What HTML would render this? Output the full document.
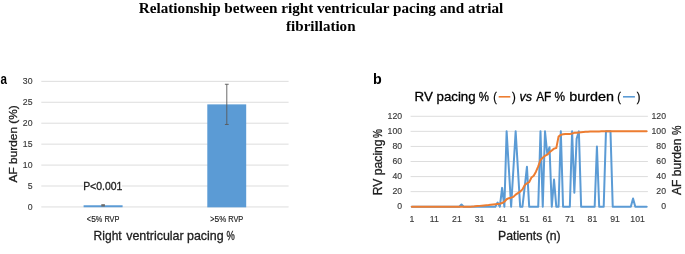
<!DOCTYPE html>
<html><head><meta charset="utf-8"><title>Relationship between right ventricular pacing and atrial fibrillation</title>
<style>
html,body{margin:0;padding:0;background:#fff;}
body{width:685px;height:254px;overflow:hidden;font-family:"Liberation Sans", sans-serif;}
svg{display:block;will-change:transform;}
</style></head>
<body>
<svg width="685" height="254" viewBox="0 0 685 254">
<rect width="685" height="254" fill="#fff"/>
<text x="138.84" y="12.9" font-family='"Liberation Serif", serif' font-size="14" font-weight="bold" fill="#000" textLength="364.52" lengthAdjust="spacingAndGlyphs">Relationship between right ventricular pacing and atrial</text>
<text x="286.09" y="30.6" font-family='"Liberation Serif", serif' font-size="14" font-weight="bold" fill="#000" textLength="69.44" lengthAdjust="spacingAndGlyphs">fibrillation</text>
<text x="0.56" y="84.0" font-family='"Liberation Sans", sans-serif' font-size="14" font-weight="bold" fill="#000" textLength="6.47" lengthAdjust="spacingAndGlyphs">a</text>
<line x1="41.3" y1="206.94" x2="288.6" y2="206.94" stroke="#D9D9D9" stroke-width="0.9"/>
<text x="32.5" y="209.94" font-family='"Liberation Sans", sans-serif' font-size="8.7" text-anchor="end" fill="#3a3a3a" stroke="#3a3a3a" stroke-width="0.15">0</text>
<line x1="41.3" y1="186.01" x2="288.6" y2="186.01" stroke="#D9D9D9" stroke-width="0.9"/>
<text x="32.5" y="189.01" font-family='"Liberation Sans", sans-serif' font-size="8.7" text-anchor="end" fill="#3a3a3a" stroke="#3a3a3a" stroke-width="0.15">5</text>
<line x1="41.3" y1="165.08" x2="288.6" y2="165.08" stroke="#D9D9D9" stroke-width="0.9"/>
<text x="32.5" y="168.08" font-family='"Liberation Sans", sans-serif' font-size="8.7" text-anchor="end" fill="#3a3a3a" stroke="#3a3a3a" stroke-width="0.15">10</text>
<line x1="41.3" y1="144.14" x2="288.6" y2="144.14" stroke="#D9D9D9" stroke-width="0.9"/>
<text x="32.5" y="147.14" font-family='"Liberation Sans", sans-serif' font-size="8.7" text-anchor="end" fill="#3a3a3a" stroke="#3a3a3a" stroke-width="0.15">15</text>
<line x1="41.3" y1="123.21" x2="288.6" y2="123.21" stroke="#D9D9D9" stroke-width="0.9"/>
<text x="32.5" y="126.21" font-family='"Liberation Sans", sans-serif' font-size="8.7" text-anchor="end" fill="#3a3a3a" stroke="#3a3a3a" stroke-width="0.15">20</text>
<line x1="41.3" y1="102.28" x2="288.6" y2="102.28" stroke="#D9D9D9" stroke-width="0.9"/>
<text x="32.5" y="105.28" font-family='"Liberation Sans", sans-serif' font-size="8.7" text-anchor="end" fill="#3a3a3a" stroke="#3a3a3a" stroke-width="0.15">25</text>
<line x1="41.3" y1="81.35" x2="288.6" y2="81.35" stroke="#D9D9D9" stroke-width="0.9"/>
<text x="32.5" y="84.35" font-family='"Liberation Sans", sans-serif' font-size="8.7" text-anchor="end" fill="#3a3a3a" stroke="#3a3a3a" stroke-width="0.15">30</text>
<rect x="83.6" y="205.27" width="39.0" height="1.97" fill="#5B9BD5"/>
<rect x="207.3" y="104.37" width="38.9" height="102.97" fill="#5B9BD5"/>
<line x1="226.8" y1="84.28" x2="226.8" y2="124.47" stroke="#595959" stroke-width="0.9"/>
<line x1="224.9" y1="84.28" x2="228.7" y2="84.28" stroke="#595959" stroke-width="0.9"/>
<line x1="224.9" y1="124.47" x2="228.7" y2="124.47" stroke="#595959" stroke-width="0.9"/>
<rect x="101.3" y="204.2" width="3.6" height="2.3" fill="#6a6a6a"/>
<text x="86.64" y="222.0" font-family='"Liberation Sans", sans-serif' font-size="8.4" font-weight="normal" fill="#202020" stroke="#202020" stroke-width="0.15" textLength="4.21" lengthAdjust="spacingAndGlyphs">&lt;</text>
<text x="91.16" y="222.0" font-family='"Liberation Sans", sans-serif' font-size="8.4" font-weight="normal" fill="#202020" stroke="#202020" stroke-width="0.15" textLength="4.69" lengthAdjust="spacingAndGlyphs">5</text>
<text x="95.64" y="222.0" font-family='"Liberation Sans", sans-serif' font-size="8.4" font-weight="normal" fill="#202020" stroke="#202020" stroke-width="0.15" textLength="6.52" lengthAdjust="spacingAndGlyphs">%</text>
<text x="104.4" y="222.0" font-family='"Liberation Sans", sans-serif' font-size="8.4" font-weight="normal" fill="#202020" stroke="#202020" stroke-width="0.15" textLength="15.09" lengthAdjust="spacingAndGlyphs">RVP</text>
<text x="210.24" y="222.0" font-family='"Liberation Sans", sans-serif' font-size="8.4" font-weight="normal" fill="#202020" stroke="#202020" stroke-width="0.15" textLength="4.21" lengthAdjust="spacingAndGlyphs">&gt;</text>
<text x="214.46" y="222.0" font-family='"Liberation Sans", sans-serif' font-size="8.4" font-weight="normal" fill="#202020" stroke="#202020" stroke-width="0.15" textLength="4.69" lengthAdjust="spacingAndGlyphs">5</text>
<text x="219.22" y="222.0" font-family='"Liberation Sans", sans-serif' font-size="8.4" font-weight="normal" fill="#202020" stroke="#202020" stroke-width="0.15" textLength="7.07" lengthAdjust="spacingAndGlyphs">%</text>
<text x="228.2" y="222.0" font-family='"Liberation Sans", sans-serif' font-size="8.4" font-weight="normal" fill="#202020" stroke="#202020" stroke-width="0.15" textLength="15.09" lengthAdjust="spacingAndGlyphs">RVP</text>
<rect x="83.4" y="181.0" width="38.5" height="10" fill="#fff"/>
<text x="83.14" y="189.6" font-family='"Liberation Sans", sans-serif' font-size="10.9" font-weight="normal" fill="#202020" stroke="#202020" stroke-width="0.3" textLength="39.27" lengthAdjust="spacingAndGlyphs">P&lt;0.001</text>
<text x="93.61" y="239.9" font-family='"Liberation Sans", sans-serif' font-size="13.0" font-weight="normal" fill="#202020" stroke="#202020" stroke-width="0.3" textLength="28.07" lengthAdjust="spacingAndGlyphs">Right</text>
<text x="126.16" y="239.9" font-family='"Liberation Sans", sans-serif' font-size="13.0" font-weight="normal" fill="#202020" stroke="#202020" stroke-width="0.3" textLength="57.55" lengthAdjust="spacingAndGlyphs">ventricular</text>
<text x="187.0" y="239.9" font-family='"Liberation Sans", sans-serif' font-size="13.0" font-weight="normal" fill="#202020" stroke="#202020" stroke-width="0.3" textLength="36.71" lengthAdjust="spacingAndGlyphs">pacing</text>
<text x="226.57" y="239.9" font-family='"Liberation Sans", sans-serif' font-size="13.0" font-weight="normal" fill="#202020" stroke="#202020" stroke-width="0.3" textLength="8.26" lengthAdjust="spacingAndGlyphs">%</text>
<text transform="translate(17.3,0) rotate(-90)" x="-182.42" y="0" font-family='"Liberation Sans", sans-serif' font-size="11.8" font-weight="normal" fill="#202020" stroke="#202020" stroke-width="0.3" textLength="77.16" lengthAdjust="spacingAndGlyphs">AF burden (%)</text>
<text x="372.96" y="84.1" font-family='"Liberation Sans", sans-serif' font-size="14.0" font-weight="bold" fill="#000" textLength="8.73" lengthAdjust="spacingAndGlyphs">b</text>
<line x1="410.6" y1="206.70" x2="647.9" y2="206.70" stroke="#D9D9D9" stroke-width="0.9"/>
<text x="402.1" y="209.40" font-family='"Liberation Sans", sans-serif' font-size="8.7" text-anchor="end" fill="#3a3a3a" stroke="#3a3a3a" stroke-width="0.15">0</text>
<text x="666.0" y="209.40" font-family='"Liberation Sans", sans-serif' font-size="8.7" text-anchor="end" fill="#3a3a3a" stroke="#3a3a3a" stroke-width="0.15">0</text>
<line x1="410.6" y1="191.63" x2="647.9" y2="191.63" stroke="#D9D9D9" stroke-width="0.9"/>
<text x="402.1" y="194.33" font-family='"Liberation Sans", sans-serif' font-size="8.7" text-anchor="end" fill="#3a3a3a" stroke="#3a3a3a" stroke-width="0.15">20</text>
<text x="666.0" y="194.33" font-family='"Liberation Sans", sans-serif' font-size="8.7" text-anchor="end" fill="#3a3a3a" stroke="#3a3a3a" stroke-width="0.15">20</text>
<line x1="410.6" y1="176.57" x2="647.9" y2="176.57" stroke="#D9D9D9" stroke-width="0.9"/>
<text x="402.1" y="179.27" font-family='"Liberation Sans", sans-serif' font-size="8.7" text-anchor="end" fill="#3a3a3a" stroke="#3a3a3a" stroke-width="0.15">40</text>
<text x="666.0" y="179.27" font-family='"Liberation Sans", sans-serif' font-size="8.7" text-anchor="end" fill="#3a3a3a" stroke="#3a3a3a" stroke-width="0.15">40</text>
<line x1="410.6" y1="161.50" x2="647.9" y2="161.50" stroke="#D9D9D9" stroke-width="0.9"/>
<text x="402.1" y="164.20" font-family='"Liberation Sans", sans-serif' font-size="8.7" text-anchor="end" fill="#3a3a3a" stroke="#3a3a3a" stroke-width="0.15">60</text>
<text x="666.0" y="164.20" font-family='"Liberation Sans", sans-serif' font-size="8.7" text-anchor="end" fill="#3a3a3a" stroke="#3a3a3a" stroke-width="0.15">60</text>
<line x1="410.6" y1="146.43" x2="647.9" y2="146.43" stroke="#D9D9D9" stroke-width="0.9"/>
<text x="402.1" y="149.13" font-family='"Liberation Sans", sans-serif' font-size="8.7" text-anchor="end" fill="#3a3a3a" stroke="#3a3a3a" stroke-width="0.15">80</text>
<text x="666.0" y="149.13" font-family='"Liberation Sans", sans-serif' font-size="8.7" text-anchor="end" fill="#3a3a3a" stroke="#3a3a3a" stroke-width="0.15">80</text>
<line x1="410.6" y1="131.37" x2="647.9" y2="131.37" stroke="#D9D9D9" stroke-width="0.9"/>
<text x="402.1" y="134.07" font-family='"Liberation Sans", sans-serif' font-size="8.7" text-anchor="end" fill="#3a3a3a" stroke="#3a3a3a" stroke-width="0.15">100</text>
<text x="666.0" y="134.07" font-family='"Liberation Sans", sans-serif' font-size="8.7" text-anchor="end" fill="#3a3a3a" stroke="#3a3a3a" stroke-width="0.15">100</text>
<line x1="410.6" y1="116.30" x2="647.9" y2="116.30" stroke="#D9D9D9" stroke-width="0.9"/>
<text x="402.1" y="119.00" font-family='"Liberation Sans", sans-serif' font-size="8.7" text-anchor="end" fill="#3a3a3a" stroke="#3a3a3a" stroke-width="0.15">120</text>
<text x="666.0" y="119.00" font-family='"Liberation Sans", sans-serif' font-size="8.7" text-anchor="end" fill="#3a3a3a" stroke="#3a3a3a" stroke-width="0.15">120</text>
<text x="411.80" y="222.1" font-family='"Liberation Sans", sans-serif' font-size="8.7" text-anchor="middle" fill="#3a3a3a" stroke="#3a3a3a" stroke-width="0.15">1</text>
<text x="434.38" y="222.1" font-family='"Liberation Sans", sans-serif' font-size="8.7" text-anchor="middle" fill="#3a3a3a" stroke="#3a3a3a" stroke-width="0.15">11</text>
<text x="456.95" y="222.1" font-family='"Liberation Sans", sans-serif' font-size="8.7" text-anchor="middle" fill="#3a3a3a" stroke="#3a3a3a" stroke-width="0.15">21</text>
<text x="479.53" y="222.1" font-family='"Liberation Sans", sans-serif' font-size="8.7" text-anchor="middle" fill="#3a3a3a" stroke="#3a3a3a" stroke-width="0.15">31</text>
<text x="502.11" y="222.1" font-family='"Liberation Sans", sans-serif' font-size="8.7" text-anchor="middle" fill="#3a3a3a" stroke="#3a3a3a" stroke-width="0.15">41</text>
<text x="524.68" y="222.1" font-family='"Liberation Sans", sans-serif' font-size="8.7" text-anchor="middle" fill="#3a3a3a" stroke="#3a3a3a" stroke-width="0.15">51</text>
<text x="547.26" y="222.1" font-family='"Liberation Sans", sans-serif' font-size="8.7" text-anchor="middle" fill="#3a3a3a" stroke="#3a3a3a" stroke-width="0.15">61</text>
<text x="569.84" y="222.1" font-family='"Liberation Sans", sans-serif' font-size="8.7" text-anchor="middle" fill="#3a3a3a" stroke="#3a3a3a" stroke-width="0.15">71</text>
<text x="592.42" y="222.1" font-family='"Liberation Sans", sans-serif' font-size="8.7" text-anchor="middle" fill="#3a3a3a" stroke="#3a3a3a" stroke-width="0.15">81</text>
<text x="614.99" y="222.1" font-family='"Liberation Sans", sans-serif' font-size="8.7" text-anchor="middle" fill="#3a3a3a" stroke="#3a3a3a" stroke-width="0.15">91</text>
<text x="637.57" y="222.1" font-family='"Liberation Sans", sans-serif' font-size="8.7" text-anchor="middle" fill="#3a3a3a" stroke="#3a3a3a" stroke-width="0.15">101</text>
<polyline points="411.80,206.70 414.06,206.70 416.32,206.70 418.57,206.70 420.83,206.70 423.09,206.70 425.35,206.70 427.60,206.70 429.86,206.70 432.12,206.70 434.38,206.70 436.63,206.70 438.89,206.70 441.15,206.70 443.41,206.70 445.67,206.70 447.92,206.70 450.18,206.70 452.44,206.70 454.70,206.70 456.95,206.70 459.21,206.70 461.47,204.44 463.73,206.70 465.98,206.70 468.24,206.70 470.50,206.70 472.76,206.70 475.02,206.70 477.27,206.70 479.53,206.70 481.79,206.70 484.05,206.70 486.30,206.70 488.56,206.70 490.82,206.70 493.08,206.70 495.33,206.70 497.59,202.56 499.85,206.70 502.11,187.87 504.37,206.70 506.62,131.37 508.88,169.03 511.14,206.70 513.40,169.03 515.65,131.37 517.91,169.03 520.17,206.70 522.43,206.70 524.68,187.11 526.94,166.77 529.20,206.70 531.46,206.70 533.72,206.70 535.97,206.70 538.23,206.70 540.49,131.37 542.75,206.70 545.00,131.37 547.26,153.97 549.52,147.19 551.78,206.70 554.03,179.58 556.29,206.70 558.55,206.70 560.81,131.37 563.07,206.70 565.32,206.70 567.58,206.70 569.84,206.70 572.10,131.37 574.35,192.76 576.61,138.90 578.87,131.37 581.13,206.70 583.38,206.70 585.64,206.70 587.90,206.70 590.16,206.70 592.42,206.70 594.67,206.70 596.93,146.43 599.19,206.70 601.45,206.70 603.70,206.70 605.96,131.37 608.22,131.37 610.48,131.37 612.73,206.70 614.99,206.70 617.25,206.70 619.51,206.70 621.77,206.70 624.02,206.70 626.28,206.70 628.54,206.70 630.80,206.70 633.05,198.41 635.31,206.70 637.57,206.70 639.83,206.70 642.08,206.70 644.34,206.70 646.60,206.70" fill="none" stroke="#5B9BD5" stroke-width="2" stroke-linejoin="round" stroke-linecap="round"/>
<polyline points="411.80,206.70 414.06,206.70 416.32,206.70 418.57,206.70 420.83,206.70 423.09,206.70 425.35,206.70 427.60,206.70 429.86,206.70 432.12,206.70 434.38,206.70 436.63,206.70 438.89,206.70 441.15,206.70 443.41,206.70 445.67,206.70 447.92,206.70 450.18,206.70 452.44,206.70 454.70,206.70 456.95,206.70 459.21,206.70 461.47,206.70 463.73,206.70 465.98,206.70 468.24,206.70 470.50,206.70 472.76,206.62 475.02,206.36 477.27,206.10 479.53,205.87 481.79,205.65 484.05,205.44 486.30,205.24 488.56,205.04 490.82,204.77 493.08,204.49 495.33,204.21 497.59,203.95 499.85,203.69 502.11,203.08 504.37,201.73 506.62,199.24 508.88,198.19 511.14,197.66 513.40,196.91 515.65,194.65 517.91,193.14 520.17,191.63 522.43,189.37 524.68,185.23 526.94,183.35 529.20,182.14 531.46,177.47 533.72,175.81 535.97,171.67 538.23,166.40 540.49,159.99 542.75,157.73 545.00,155.85 547.26,154.72 549.52,152.31 551.78,150.43 554.03,148.62 556.29,148.09 558.55,136.64 560.81,134.91 563.07,134.23 565.32,134.00 567.58,133.97 569.84,133.93 572.10,133.48 574.35,132.87 576.61,132.65 578.87,132.42 581.13,132.20 583.38,131.97 585.64,131.74 587.90,131.67 590.16,131.59 592.42,131.52 594.67,131.44 596.93,131.42 599.19,131.39 601.45,131.37 603.70,131.37 605.96,131.37 608.22,131.37 610.48,131.37 612.73,131.37 614.99,131.37 617.25,131.37 619.51,131.37 621.77,131.37 624.02,131.37 626.28,131.37 628.54,131.37 630.80,131.37 633.05,131.37 635.31,131.37 637.57,131.37 639.83,131.37 642.08,131.37 644.34,131.37 646.60,131.37" fill="none" stroke="#ED7D31" stroke-width="2" stroke-linejoin="round" stroke-linecap="round"/>
<text x="414.61" y="100.9" font-family='"Liberation Sans", sans-serif' font-size="12.9" font-weight="normal" fill="#000" stroke="#000" stroke-width="0.3" textLength="61.04" lengthAdjust="spacingAndGlyphs">RV pacing</text>
<text x="478.69" y="100.9" font-family='"Liberation Sans", sans-serif' font-size="12.9" font-weight="normal" fill="#000" stroke="#000" stroke-width="0.3" textLength="10.22" lengthAdjust="spacingAndGlyphs">%</text>
<text x="493.25" y="100.9" font-family='"Liberation Sans", sans-serif' font-size="12.9" font-weight="normal" fill="#000" stroke="#000" stroke-width="0.3" textLength="3.52" lengthAdjust="spacingAndGlyphs">(</text>
<line x1="498.7" y1="96.8" x2="510.3" y2="96.8" stroke="#ED7D31" stroke-width="1.6"/>
<text x="512.03" y="100.9" font-family='"Liberation Sans", sans-serif' font-size="12.9" font-weight="normal" fill="#000" stroke="#000" stroke-width="0.3" textLength="3.77" lengthAdjust="spacingAndGlyphs">)</text>
<text x="519.41" y="100.9" font-family='"Liberation Sans", sans-serif' font-size="12.9" font-weight="normal" font-style="italic" fill="#000" stroke="#000" stroke-width="0.3" textLength="12.54" lengthAdjust="spacingAndGlyphs">vs</text>
<text x="536.18" y="100.9" font-family='"Liberation Sans", sans-serif' font-size="12.9" font-weight="normal" fill="#000" stroke="#000" stroke-width="0.3" textLength="15.1" lengthAdjust="spacingAndGlyphs">AF</text>
<text x="554.58" y="100.9" font-family='"Liberation Sans", sans-serif' font-size="12.9" font-weight="normal" fill="#000" stroke="#000" stroke-width="0.3" textLength="10.55" lengthAdjust="spacingAndGlyphs">%</text>
<text x="569.27" y="100.9" font-family='"Liberation Sans", sans-serif' font-size="12.9" font-weight="normal" fill="#000" stroke="#000" stroke-width="0.3" textLength="44.76" lengthAdjust="spacingAndGlyphs">burden</text>
<text x="617.32" y="100.9" font-family='"Liberation Sans", sans-serif' font-size="12.9" font-weight="normal" fill="#000" stroke="#000" stroke-width="0.3" textLength="3.64" lengthAdjust="spacingAndGlyphs">(</text>
<line x1="623.0" y1="96.8" x2="634.9" y2="96.8" stroke="#5B9BD5" stroke-width="1.6"/>
<text x="636.74" y="100.9" font-family='"Liberation Sans", sans-serif' font-size="12.9" font-weight="normal" fill="#000" stroke="#000" stroke-width="0.3" textLength="3.64" lengthAdjust="spacingAndGlyphs">)</text>
<text x="497.99" y="239.5" font-family='"Liberation Sans", sans-serif' font-size="12.3" font-weight="normal" fill="#202020" stroke="#202020" stroke-width="0.3" textLength="62.67" lengthAdjust="spacingAndGlyphs">Patients (n)</text>
<text transform="translate(382.2,0) rotate(-90)" x="-195.19" y="0" font-family='"Liberation Sans", sans-serif' font-size="12.1" font-weight="normal" fill="#202020" stroke="#202020" stroke-width="0.3" textLength="55.77" lengthAdjust="spacingAndGlyphs">RV pacing</text>
<text transform="translate(382.2,0) rotate(-90)" x="-137.96" y="0" font-family='"Liberation Sans", sans-serif' font-size="12.1" font-weight="normal" fill="#202020" stroke="#202020" stroke-width="0.3" textLength="8.91" lengthAdjust="spacingAndGlyphs">%</text>
<text transform="translate(680.8,0) rotate(-90)" x="-195.02" y="0" font-family='"Liberation Sans", sans-serif' font-size="12.1" font-weight="normal" fill="#202020" stroke="#202020" stroke-width="0.3" textLength="56.51" lengthAdjust="spacingAndGlyphs">AF burden</text>
<text transform="translate(680.8,0) rotate(-90)" x="-134.88" y="0" font-family='"Liberation Sans", sans-serif' font-size="12.1" font-weight="normal" fill="#202020" stroke="#202020" stroke-width="0.3" textLength="9.46" lengthAdjust="spacingAndGlyphs">%</text>
</svg>
</body></html>
